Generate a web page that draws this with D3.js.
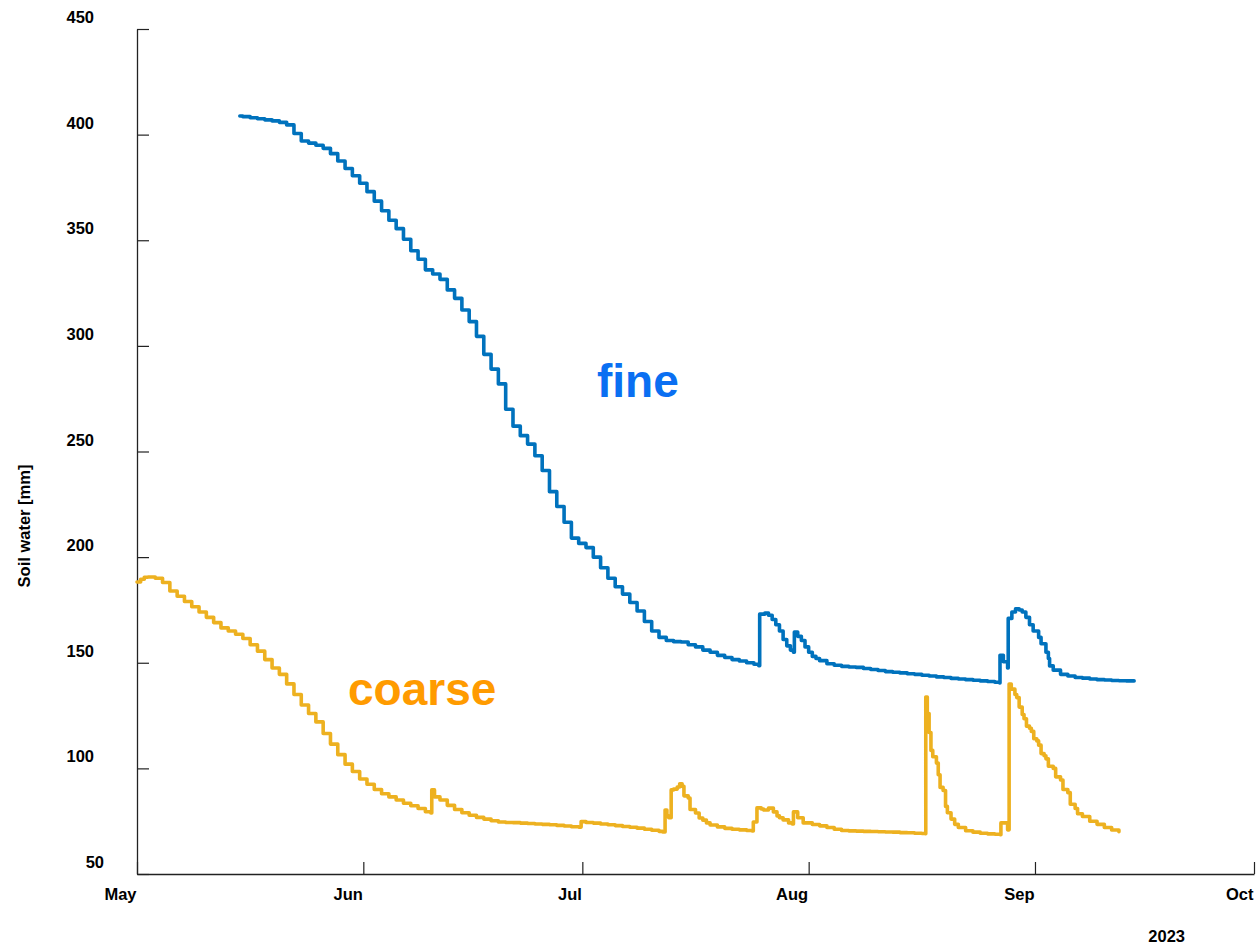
<!DOCTYPE html>
<html>
<head>
<meta charset="utf-8">
<script src="https://cdn.jsdelivr.net/npm/d3@7"></script>
<style>
  body { margin: 0; background: #fff; }
  svg { display: block; font-family: "Liberation Sans", Arial, sans-serif; }
</style>
</head>
<body>
<svg id="chart" width="1256" height="944"></svg>
<script>
// soil water [mm]; times are "MM-DD HH" in 2023
const fineSeries = [
  ["05-15 02", 408.8], ["05-15 12", 408.5], ["05-16 12", 408.0], ["05-17 12", 407.5],
  ["05-18 12", 407.0], ["05-19 12", 406.5], ["05-20 12", 405.8], ["05-21 12", 404.6],
  ["05-22 12", 400.5], ["05-23 12", 397.0], ["05-24 12", 396.0], ["05-25 12", 395.0],
  ["05-26 12", 393.5], ["05-27 12", 391.0], ["05-28 12", 387.5], ["05-29 12", 384.0],
  ["05-30 12", 380.5], ["05-31 12", 377.0], ["06-01 12", 373.0], ["06-02 12", 368.5],
  ["06-03 12", 364.0], ["06-04 12", 359.5], ["06-05 12", 355.5], ["06-06 12", 350.5],
  ["06-07 12", 345.0], ["06-08 12", 341.0], ["06-09 12", 336.0], ["06-10 12", 334.0],
  ["06-11 12", 331.5], ["06-12 12", 326.5], ["06-13 12", 322.5], ["06-14 12", 317.0],
  ["06-15 12", 311.5], ["06-16 12", 304.5], ["06-17 12", 296.0], ["06-18 12", 289.0],
  ["06-19 12", 282.0], ["06-20 12", 270.0], ["06-21 12", 262.0], ["06-22 12", 257.5],
  ["06-23 12", 253.5], ["06-24 12", 248.0], ["06-25 12", 241.0], ["06-26 12", 231.0],
  ["06-27 12", 224.0], ["06-28 12", 216.5], ["06-29 12", 209.0], ["06-30 12", 206.5],
  ["07-01 12", 204.5], ["07-02 12", 200.0], ["07-03 12", 195.0], ["07-04 12", 190.0],
  ["07-05 12", 186.0], ["07-06 12", 182.5], ["07-07 12", 178.5], ["07-08 12", 174.5],
  ["07-09 12", 169.5], ["07-10 12", 165.0], ["07-11 12", 162.0], ["07-12 12", 160.5],
  ["07-13 12", 160.0], ["07-14 12", 159.8], ["07-15 12", 158.5], ["07-16 12", 157.5],
  ["07-17 12", 156.0], ["07-18 12", 155.0], ["07-19 12", 153.5], ["07-20 12", 152.5],
  ["07-21 12", 151.5], ["07-22 12", 150.8], ["07-23 12", 150.0], ["07-24 12", 149.3],
  ["07-25 04", 148.6], ["07-25 07", 173.0], ["07-26 00", 173.5], ["07-26 12", 172.5],
  ["07-27 00", 170.5], ["07-27 12", 168.0], ["07-28 00", 165.0], ["07-28 12", 161.0],
  ["07-29 00", 158.0], ["07-29 12", 156.0], ["07-29 22", 155.0], ["07-30 01", 164.5],
  ["07-30 12", 162.5], ["07-31 00", 160.5], ["07-31 12", 157.5], ["08-01 00", 155.0],
  ["08-01 12", 153.0], ["08-02 00", 152.0], ["08-02 12", 151.0], ["08-03 12", 149.5],
  ["08-04 12", 148.8], ["08-05 12", 148.3], ["08-06 12", 148.0], ["08-07 12", 147.8],
  ["08-08 12", 147.3], ["08-09 12", 146.8], ["08-10 12", 146.3], ["08-11 12", 145.8],
  ["08-12 12", 145.5], ["08-13 12", 145.2], ["08-14 12", 144.8], ["08-15 12", 144.5],
  ["08-16 12", 144.1], ["08-17 12", 143.7], ["08-18 12", 143.3], ["08-19 12", 143.0],
  ["08-20 12", 142.6], ["08-21 12", 142.3], ["08-22 12", 142.0], ["08-23 12", 141.7],
  ["08-24 12", 141.4], ["08-25 12", 141.1], ["08-26 12", 140.8], ["08-27 04", 140.4],
  ["08-27 05", 153.5], ["08-27 16", 150.5], ["08-28 06", 147.5], ["08-28 08", 171.0],
  ["08-28 20", 174.0], ["08-29 08", 175.5], ["08-29 20", 175.0], ["08-30 06", 174.0],
  ["08-30 18", 171.5], ["08-31 06", 168.0], ["08-31 18", 165.0], ["09-01 12", 162.0],
  ["09-01 20", 159.0], ["09-02 12", 155.0], ["09-02 20", 152.0], ["09-03 00", 148.5],
  ["09-03 12", 146.5], ["09-04 12", 144.5], ["09-05 12", 143.7], ["09-06 12", 143.0],
  ["09-07 12", 142.7], ["09-08 12", 142.3], ["09-09 12", 142.0], ["09-10 12", 141.8],
  ["09-11 12", 141.6], ["09-12 12", 141.5], ["09-13 12", 141.4], ["09-14 14", 141.4]
];

const coarseSeries = [
  ["05-01 00", 188.2], ["05-01 12", 189.5], ["05-02 00", 190.5], ["05-02 12", 190.6],
  ["05-03 12", 190.0], ["05-04 12", 188.0], ["05-05 12", 184.0], ["05-06 12", 181.5],
  ["05-07 12", 179.0], ["05-08 12", 176.5], ["05-09 12", 174.0], ["05-10 12", 171.5],
  ["05-11 12", 169.0], ["05-12 12", 166.5], ["05-13 12", 165.0], ["05-14 12", 163.5],
  ["05-15 12", 161.5], ["05-16 12", 158.5], ["05-17 12", 155.5], ["05-18 12", 151.5],
  ["05-19 12", 147.5], ["05-20 12", 144.5], ["05-21 12", 140.0], ["05-22 12", 135.0],
  ["05-23 12", 130.0], ["05-24 12", 126.0], ["05-25 12", 122.0], ["05-26 12", 116.5],
  ["05-27 12", 111.5], ["05-28 12", 106.5], ["05-29 12", 102.0], ["05-30 12", 98.5],
  ["05-31 12", 95.0], ["06-01 12", 92.5], ["06-02 12", 90.0], ["06-03 12", 88.0],
  ["06-04 12", 86.5], ["06-05 12", 85.0], ["06-06 12", 83.5], ["06-07 12", 82.3],
  ["06-08 12", 81.0], ["06-09 12", 79.5], ["06-10 06", 78.9], ["06-10 09", 89.8],
  ["06-10 18", 86.5], ["06-11 12", 85.0], ["06-12 12", 82.5], ["06-13 12", 80.5],
  ["06-14 12", 79.0], ["06-15 12", 77.8], ["06-16 12", 76.8], ["06-17 12", 76.0],
  ["06-18 12", 75.2], ["06-19 12", 74.6], ["06-20 12", 74.4], ["06-21 12", 74.3],
  ["06-22 12", 74.1], ["06-23 12", 73.9], ["06-24 12", 73.7], ["06-25 12", 73.5],
  ["06-26 12", 73.3], ["06-27 12", 73.0], ["06-28 12", 72.7], ["06-29 12", 72.4],
  ["06-30 12", 72.2], ["06-30 20", 74.8], ["07-01 12", 74.4], ["07-02 12", 74.1],
  ["07-03 12", 73.7], ["07-04 12", 73.3], ["07-05 12", 72.9], ["07-06 12", 72.5],
  ["07-07 12", 72.1], ["07-08 12", 71.7], ["07-09 12", 71.2], ["07-10 12", 70.7],
  ["07-11 12", 70.2], ["07-12 00", 69.9], ["07-12 08", 80.3], ["07-12 14", 77.5],
  ["07-12 20", 76.6], ["07-13 04", 89.8], ["07-13 12", 90.2], ["07-14 00", 91.2],
  ["07-14 08", 92.7], ["07-14 16", 91.5], ["07-14 22", 87.0], ["07-15 12", 86.0],
  ["07-15 18", 80.5], ["07-16 12", 78.9], ["07-17 00", 76.5], ["07-17 12", 75.5],
  ["07-18 00", 74.2], ["07-18 12", 73.2], ["07-19 12", 72.3], ["07-20 12", 71.6],
  ["07-21 12", 71.2], ["07-22 12", 70.9], ["07-23 12", 70.6], ["07-24 06", 70.4],
  ["07-24 10", 74.6], ["07-24 22", 81.3], ["07-25 12", 80.8], ["07-25 20", 80.3],
  ["07-26 12", 81.2], ["07-27 04", 79.4], ["07-27 16", 77.5], ["07-28 00", 76.6],
  ["07-28 12", 75.6], ["07-29 06", 74.2], ["07-29 18", 73.7], ["07-29 22", 79.4],
  ["07-30 12", 76.6], ["07-31 06", 74.2], ["08-01 12", 73.4], ["08-02 12", 72.8],
  ["08-03 12", 72.0], ["08-04 12", 71.2], ["08-05 12", 70.6], ["08-06 12", 70.4],
  ["08-07 12", 70.3], ["08-08 12", 70.2], ["08-09 12", 70.1], ["08-10 12", 70.0],
  ["08-11 12", 69.9], ["08-12 12", 69.8], ["08-13 12", 69.6], ["08-14 12", 69.5],
  ["08-15 12", 69.3], ["08-16 12", 69.2], ["08-16 23", 69.1], ["08-17 01", 133.8],
  ["08-17 06", 126.0], ["08-17 12", 117.0], ["08-17 18", 108.5], ["08-18 00", 105.5],
  ["08-18 12", 102.5], ["08-18 18", 97.0], ["08-19 00", 91.0], ["08-19 10", 89.5],
  ["08-19 18", 82.0], ["08-20 00", 79.0], ["08-20 12", 76.0], ["08-21 00", 73.5],
  ["08-21 12", 72.0], ["08-22 12", 70.5], ["08-23 12", 69.8], ["08-24 12", 69.3],
  ["08-25 12", 69.0], ["08-26 12", 68.8], ["08-27 06", 68.6], ["08-27 08", 74.2],
  ["08-28 06", 70.9], ["08-28 11", 139.9], ["08-28 18", 137.5], ["08-29 06", 135.0],
  ["08-29 12", 133.5], ["08-29 20", 129.0], ["08-30 06", 125.5], ["08-30 12", 123.5],
  ["08-30 20", 120.0], ["08-31 06", 119.0], ["08-31 12", 117.5], ["08-31 20", 114.0],
  ["09-01 06", 113.0], ["09-01 12", 111.0], ["09-01 20", 107.0], ["09-02 06", 106.0],
  ["09-02 12", 104.5], ["09-02 20", 101.0], ["09-03 12", 100.0], ["09-03 20", 96.0],
  ["09-04 12", 94.5], ["09-04 20", 90.0], ["09-05 12", 88.5], ["09-05 20", 83.0],
  ["09-06 12", 81.0], ["09-06 20", 78.5], ["09-07 12", 77.2], ["09-08 12", 75.0],
  ["09-09 12", 73.5], ["09-10 12", 72.0], ["09-11 12", 70.8], ["09-12 12", 70.0]
];

const monthTicks = ["2023-05-01", "2023-06-01", "2023-07-01", "2023-08-01", "2023-09-01", "2023-10-01"];
const yTicks = [50, 100, 150, 200, 250, 300, 350, 400, 450];

const svg = d3.select("#chart");
const margin = { top: 29, right: 2, bottom: 70, left: 137 };
const width = 1256 - margin.left - margin.right;
const height = 944 - margin.top - margin.bottom;

const parseTime = (s) => d3.timeParse("%Y-%m-%d %H")("2023-" + s);
const parseDay = d3.timeParse("%Y-%m-%d");

const toPoints = (series) => series.map(([t, v]) => ({ t: parseTime(t), v }));
const fine = toPoints(fineSeries);
const coarse = toPoints(coarseSeries);

const xScale = d3.scaleTime()
  .domain([parseDay(monthTicks[0]), parseDay(monthTicks[monthTicks.length - 1])])
  .range([0, width]);
const yScale = d3.scaleLinear().domain([50, 450]).range([height, 0]);

const g = svg.append("g").attr("transform", `translate(${margin.left},${margin.top})`);

// axes, ticks pointing inward
const xAxis = g.append("g")
  .attr("transform", `translate(0,${height})`)
  .call(d3.axisBottom(xScale)
    .tickValues(monthTicks.map(parseDay))
    .tickSize(-12)
    .tickSizeOuter(0)
    .tickFormat(d3.timeFormat("%b")));

const yAxis = g.append("g")
  .call(d3.axisLeft(yScale)
    .tickValues(yTicks)
    .tickSize(-12)
    .tickSizeOuter(0));

[xAxis, yAxis].forEach((ax) => {
  ax.select(".domain").attr("stroke", "#222").attr("stroke-width", 1.3);
  ax.selectAll(".tick line").attr("stroke", "#222").attr("stroke-width", 1.2);
  ax.selectAll("text")
    .attr("fill", "#000")
    .style("font-family", '"Liberation Sans", Arial, sans-serif')
    .style("font-size", "16.5px")
    .style("font-weight", "bold");
});

xAxis.selectAll(".tick text")
  .attr("text-anchor", "end")
  .attr("x", -1)
  .attr("y", 26)
  .attr("dy", null);

yAxis.selectAll(".tick text")
  .attr("text-anchor", "end")
  .attr("x", (d) => (d === 50 ? -33 : -43))
  .attr("y", -6.5)
  .attr("dy", null);

svg.append("text")
  .attr("x", 1185)
  .attr("y", 942)
  .attr("text-anchor", "end")
  .style("font-size", "16.5px")
  .style("font-weight", "bold")
  .text("2023");

svg.append("text")
  .attr("transform", "translate(30,526) rotate(-90)")
  .attr("text-anchor", "middle")
  .style("font-size", "16.5px")
  .style("font-weight", "bold")
  .text("Soil water [mm]");

const line = d3.line()
  .x((d) => xScale(d.t))
  .y((d) => yScale(d.v))
  .curve(d3.curveStepAfter);

g.append("path")
  .datum(coarse)
  .attr("fill", "none")
  .attr("stroke", "#edb120")
  .attr("stroke-width", 3.6)
  .attr("stroke-linejoin", "round")
  .attr("stroke-linecap", "round")
  .attr("d", line);

g.append("path")
  .datum(fine)
  .attr("fill", "none")
  .attr("stroke", "#0072bd")
  .attr("stroke-width", 3.6)
  .attr("stroke-linejoin", "round")
  .attr("stroke-linecap", "round")
  .attr("d", line);

svg.append("text")
  .attr("x", 597)
  .attr("y", 397)
  .attr("fill", "#0a6ff2")
  .style("font-size", "46px")
  .style("font-weight", "bold")
  .text("fine");

svg.append("text")
  .attr("x", 348)
  .attr("y", 705)
  .attr("fill", "#ff9b00")
  .style("font-size", "46px")
  .style("font-weight", "bold")
  .text("coarse");
</script>
</body>
</html>
